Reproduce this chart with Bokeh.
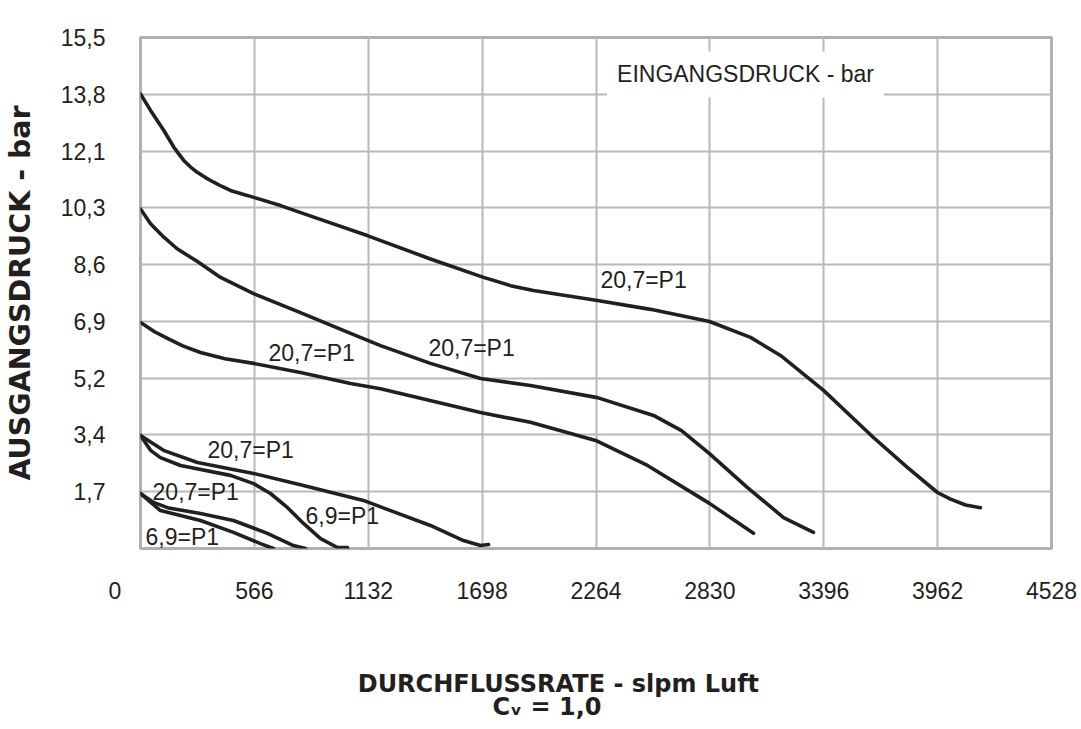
from bokeh.plotting import figure
from bokeh.models import FixedTicker, CustomJSTickFormatter, Label, Range1d, ColumnDataSource, Title
from bokeh.core.properties import value
from bokeh.embed import file_html
from bokeh.resources import INLINE

# ---- data (x: slpm air, y: outlet pressure in bar) ----
X_TICKS = [0, 566, 1132, 1698, 2264, 2830, 3396, 3962, 4528]
Y_TICKS = [1.724, 3.447, 5.171, 6.895, 8.618, 10.342, 12.066, 13.790, 15.513]
Y_TICK_LABELS = ["1,7", "3,4", "5,2", "6,9", "8,6", "10,3", "12,1", "13,8", "15,5"]

curve_a_x = [0, 50, 116, 166, 190, 215, 249, 282, 323, 364, 405, 447, 505, 563, 696, 861, 1127, 1441, 1705, 1839, 1953, 2271, 2535, 2828, 3032, 3181, 3395, 3643, 3810, 3961, 4026, 4101, 4175]
curve_a_y = [13.80, 13.30, 12.69, 12.18, 11.98, 11.78, 11.58, 11.42, 11.26, 11.12, 10.99, 10.87, 10.76, 10.66, 10.41, 10.06, 9.50, 8.79, 8.23, 7.98, 7.83, 7.53, 7.26, 6.89, 6.41, 5.86, 4.80, 3.37, 2.47, 1.70, 1.50, 1.32, 1.24]

curve_b_x = [0, 50, 116, 182, 283, 398, 562, 795, 1044, 1193, 1441, 1690, 1938, 2271, 2550, 2689, 2828, 3017, 3196, 3345]
curve_b_y = [10.31, 9.86, 9.45, 9.10, 8.71, 8.23, 7.74, 7.16, 6.53, 6.16, 5.62, 5.16, 4.95, 4.58, 4.04, 3.58, 2.88, 1.85, 0.94, 0.49]

curve_c_x = [0, 70, 134, 210, 298, 420, 562, 795, 1044, 1193, 1690, 1938, 2262, 2520, 2828, 3047]
curve_c_y = [6.86, 6.58, 6.38, 6.15, 5.95, 5.76, 5.62, 5.34, 5.01, 4.85, 4.13, 3.83, 3.28, 2.52, 1.37, 0.46]

curve_d_x = [0, 114, 283, 562, 810, 1108, 1243, 1441, 1605, 1690, 1730]
curve_d_y = [3.43, 2.98, 2.61, 2.28, 1.91, 1.46, 1.15, 0.70, 0.24, 0.09, 0.12]

curve_e_x = [0, 50, 99, 199, 447, 562, 646, 731, 810, 895, 979, 1029]
curve_e_y = [3.43, 2.98, 2.76, 2.52, 2.22, 1.97, 1.67, 1.24, 0.76, 0.30, 0.03, 0.03]

curve_f_x = [0, 65, 134, 298, 462, 631, 760, 820]
curve_f_y = [1.67, 1.40, 1.24, 1.06, 0.85, 0.46, 0.09, 0.0]

curve_g_x = [0, 99, 298, 462, 596, 661]
curve_g_y = [1.67, 1.15, 0.85, 0.49, 0.15, 0.0]

label_text = ["20,7=P1", "20,7=P1", "20,7=P1", "20,7=P1", "6,9=P1", "20,7=P1", "6,9=P1"]
label_x = [2286, 1431, 636, 333, 820, 60, 25]
label_y = [8.14, 6.10, 5.95, 2.98, 1.00, 1.73, 0.36]

X_TITLE = "DURCHFLUSSRATE - slpm Luft"
CV_TEXT = "C\u1d65 = 1,0"

INK = "#231f20"
GRID = "#b9b9b9"
FONT = "Liberation Sans"
BOLD_FONT = "DejaVu Sans"
NBSP = "\u00a0"

p = figure(width=1078, height=724, output_backend="svg", toolbar_location=None,
           x_range=Range1d(0, 4528), y_range=Range1d(0, 15.513),
           min_border_left=140, min_border_right=27, min_border_top=37, min_border_bottom=176)
p.background_fill_color = "white"
p.border_fill_color = "white"
p.outline_line_color = "#b0b0b0"
p.outline_line_width = 3

# axes
p.xaxis.ticker = FixedTicker(ticks=X_TICKS)
# the "0" of the original sits left of the origin: pad it so that its centre moves left
p.xaxis.formatter = CustomJSTickFormatter(args=dict(pad=NBSP * 8), code="""
return (Math.abs(tick) < 1e-9) ? ('0' + pad) : String(Math.round(tick));
""")
p.yaxis.ticker = FixedTicker(ticks=Y_TICKS)
p.yaxis.formatter = CustomJSTickFormatter(args=dict(vals=Y_TICKS, labs=Y_TICK_LABELS), code="""
for (let j = 0; j < vals.length; j++) { if (Math.abs(vals[j] - tick) < 1e-6) return labs[j]; }
return '';
""")
for ax in (p.xaxis, p.yaxis):
    ax.axis_line_color = None
    ax.major_tick_line_color = None
    ax.minor_tick_line_color = None
    ax.major_label_text_font = FONT
    ax.major_label_text_font_size = "23px"
    ax.major_label_text_color = INK
p.xaxis.major_label_standoff = 23
p.yaxis.major_label_standoff = 29

p.yaxis.axis_label = "AUSGANGSDRUCK - bar"
p.yaxis.axis_label_text_font = BOLD_FONT
p.yaxis.axis_label_text_font_style = "bold"
p.yaxis.axis_label_text_font_size = "28.5px"
p.yaxis.axis_label_text_color = INK
p.yaxis.axis_label_standoff = 21

# x axis title line 1 (padded on the right so its centre sits left of the frame centre)
p.xaxis.axis_label = X_TITLE + NBSP * 9
p.xaxis.axis_label_text_font = BOLD_FONT
p.xaxis.axis_label_text_font_style = "bold"
p.xaxis.axis_label_text_font_size = "24px"
p.xaxis.axis_label_text_color = INK
p.xaxis.axis_label_standoff = 63

# x axis title line 2
try:
    cv_title = Title(text=CV_TEXT, align="left", offset=352, vertical_align="top",
                     text_font=BOLD_FONT, text_font_style="bold", text_font_size="24px",
                     text_color=INK, standoff=-16)
except Exception:
    cv_title = Title(text=CV_TEXT, align="left", offset=352, vertical_align="top",
                     text_font=BOLD_FONT, text_font_style="bold", text_font_size="24px",
                     text_color=INK, standoff=0)
p.add_layout(cv_title, "below")

p.xgrid.grid_line_color = GRID
p.ygrid.grid_line_color = GRID
p.xgrid.grid_line_width = 2
p.ygrid.grid_line_width = 2

# curves
for xs, ys in [(curve_a_x, curve_a_y), (curve_b_x, curve_b_y), (curve_c_x, curve_c_y),
               (curve_d_x, curve_d_y), (curve_e_x, curve_e_y), (curve_f_x, curve_f_y),
               (curve_g_x, curve_g_y)]:
    p.line(xs, ys, line_color=INK, line_width=3.6, line_join="round", line_cap="round")

# curve labels
src = ColumnDataSource(dict(x=label_x, y=label_y, t=label_text))
p.text(x="x", y="y", text="t", source=src, text_font=value(FONT), text_font_size="23px",
       text_color=INK, text_align="left", text_baseline="middle")

# header inside the chart
p.add_layout(Label(x=3007, y=14.39, text="EINGANGSDRUCK - bar", text_font=FONT,
                   text_font_size="23px", text_color=INK, text_align="center",
                   text_baseline="middle", background_fill_color="white", padding=10))

open("out.html", "w").write(file_html(p, INLINE))
